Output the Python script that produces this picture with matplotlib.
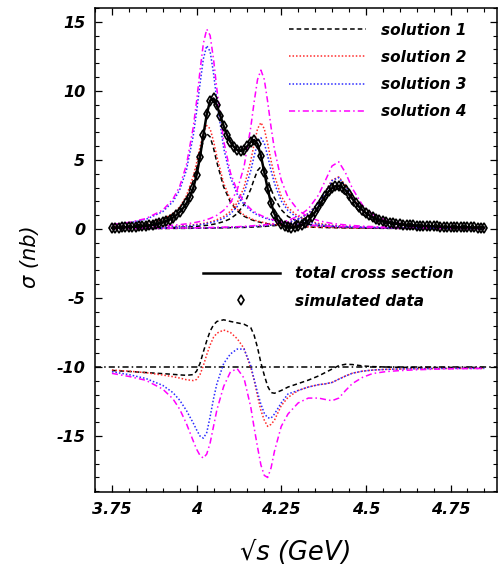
import matplotlib
matplotlib.use('Agg')
import matplotlib.pyplot as plt
from matplotlib.legend_handler import HandlerLine2D
from matplotlib.ticker import MultipleLocator
import numpy as np

plt.rcParams.update({
    'font.family': 'DejaVu Sans',
    'font.weight': 'bold',
    'font.style': 'italic',
    'axes.unicode_minus': False,
    'axes.linewidth': 1.1,
    'xtick.direction': 'in',
    'ytick.direction': 'in',
    'xtick.top': True,
    'ytick.right': True,
    'xtick.major.size': 5,
    'ytick.major.size': 5,
    'xtick.minor.size': 3,
    'ytick.minor.size': 3,
    'xtick.major.width': 0.9,
    'ytick.major.width': 0.9,
    'xtick.minor.width': 0.8,
    'ytick.minor.width': 0.8,
    'xtick.minor.visible': True,
    'ytick.minor.visible': True,
})

# Sampling energies for the resonance and interference curves (GeV)
energy = [3.75, 3.80, 3.85, 3.90, 3.93, 3.95, 3.97, 3.99, 4.00, 4.01,
          4.02, 4.03, 4.04, 4.05, 4.06, 4.08, 4.10, 4.12, 4.14, 4.16,
          4.17, 4.18, 4.19, 4.20, 4.21, 4.22, 4.23, 4.25, 4.27, 4.30,
          4.33, 4.36, 4.38, 4.40, 4.42, 4.44, 4.46, 4.49, 4.52, 4.56,
          4.60, 4.65, 4.70, 4.77, 4.85]

# psi(4040) contribution
s1_r1 = [0.15, 0.22, 0.36, 0.65, 1.02, 1.46, 2.21, 3.49, 4.40, 5.44,
         6.39, 6.89, 6.67, 5.85, 4.81, 3.04, 1.94, 1.30, 0.92, 0.69,
         0.60, 0.53, 0.47, 0.41, 0.37, 0.34, 0.30, 0.25, 0.21, 0.17,
         0.14, 0.11, 0.10, 0.09, 0.08, 0.07, 0.07, 0.06, 0.05, 0.04,
         0.04, 0.03, 0.03, 0.02, 0.02]
s2_r1 = [0.17, 0.24, 0.39, 0.70, 1.11, 1.59, 2.40, 3.80, 4.79, 5.92,
         6.95, 7.49, 7.25, 6.36, 5.23, 3.30, 2.11, 1.42, 1.01, 0.74,
         0.65, 0.57, 0.51, 0.45, 0.40, 0.36, 0.33, 0.27, 0.23, 0.18,
         0.15, 0.12, 0.11, 0.10, 0.09, 0.08, 0.07, 0.06, 0.06, 0.05,
         0.04, 0.04, 0.03, 0.02, 0.02]
s3_r1 = [0.30, 0.43, 0.69, 1.25, 1.97, 2.82, 4.26, 6.73, 8.49, 10.49,
         12.32, 13.27, 12.85, 11.28, 9.27, 5.85, 3.74, 2.51, 1.78, 1.32,
         1.15, 1.01, 0.90, 0.80, 0.72, 0.65, 0.59, 0.49, 0.41, 0.33,
         0.26, 0.22, 0.20, 0.18, 0.16, 0.14, 0.13, 0.11, 0.10, 0.09,
         0.07, 0.06, 0.05, 0.04, 0.04]
s4_r1 = [0.32, 0.47, 0.75, 1.36, 2.15, 3.07, 4.64, 7.34, 9.25, 11.44,
         13.43, 14.47, 14.01, 12.30, 10.11, 6.38, 4.07, 2.74, 1.94, 1.44,
         1.26, 1.10, 0.98, 0.87, 0.78, 0.70, 0.64, 0.53, 0.45, 0.36,
         0.29, 0.24, 0.21, 0.19, 0.17, 0.16, 0.14, 0.12, 0.11, 0.09,
         0.08, 0.07, 0.06, 0.05, 0.04]

# psi(4160) contribution
s1_r2 = [0.04, 0.05, 0.06, 0.08, 0.10, 0.12, 0.14, 0.17, 0.19, 0.21,
         0.24, 0.26, 0.30, 0.34, 0.39, 0.53, 0.74, 1.11, 1.76, 2.88,
         3.60, 4.23, 4.50, 4.23, 3.60, 2.88, 2.25, 1.39, 0.90, 0.53,
         0.34, 0.24, 0.19, 0.16, 0.13, 0.11, 0.10, 0.08, 0.07, 0.05,
         0.04, 0.03, 0.03, 0.02, 0.02]
s2_r2 = [0.06, 0.08, 0.11, 0.14, 0.18, 0.21, 0.25, 0.30, 0.33, 0.36,
         0.40, 0.45, 0.51, 0.58, 0.67, 0.90, 1.27, 1.89, 3.00, 4.93,
         6.16, 7.25, 7.70, 7.25, 6.16, 4.93, 3.85, 2.37, 1.54, 0.90,
         0.58, 0.40, 0.33, 0.27, 0.23, 0.19, 0.17, 0.13, 0.11, 0.09,
         0.07, 0.06, 0.05, 0.04, 0.03]
s3_r2 = [0.05, 0.07, 0.09, 0.12, 0.15, 0.18, 0.21, 0.25, 0.28, 0.31,
         0.35, 0.39, 0.44, 0.50, 0.57, 0.77, 1.09, 1.62, 2.57, 4.22,
         5.28, 6.21, 6.60, 6.21, 5.28, 4.22, 3.30, 2.03, 1.32, 0.77,
         0.50, 0.35, 0.28, 0.23, 0.19, 0.17, 0.14, 0.12, 0.10, 0.08,
         0.06, 0.05, 0.04, 0.03, 0.02]
s4_r2 = [0.09, 0.12, 0.16, 0.22, 0.27, 0.31, 0.37, 0.44, 0.49, 0.54,
         0.60, 0.68, 0.76, 0.87, 0.99, 1.35, 1.90, 2.83, 4.49, 7.36,
         9.20, 10.82, 11.50, 10.82, 9.20, 7.36, 5.75, 3.54, 2.30, 1.35,
         0.87, 0.60, 0.49, 0.40, 0.34, 0.29, 0.25, 0.20, 0.17, 0.13,
         0.11, 0.09, 0.07, 0.05, 0.04]

# psi(4415) contribution
s1_r3 = [0.02, 0.02, 0.03, 0.03, 0.04, 0.04, 0.04, 0.05, 0.05, 0.05,
         0.06, 0.06, 0.06, 0.07, 0.07, 0.08, 0.09, 0.10, 0.11, 0.13,
         0.14, 0.15, 0.17, 0.18, 0.20, 0.22, 0.24, 0.30, 0.37, 0.55,
         0.87, 1.48, 2.10, 2.75, 2.93, 2.45, 1.77, 1.03, 0.63, 0.37,
         0.24, 0.15, 0.11, 0.07, 0.05]
s2_r3 = [0.03, 0.03, 0.04, 0.04, 0.05, 0.05, 0.06, 0.06, 0.07, 0.07,
         0.07, 0.08, 0.08, 0.08, 0.09, 0.10, 0.11, 0.13, 0.15, 0.17,
         0.18, 0.20, 0.21, 0.23, 0.26, 0.28, 0.31, 0.38, 0.48, 0.71,
         1.12, 1.90, 2.71, 3.54, 3.77, 3.15, 2.28, 1.33, 0.82, 0.48,
         0.31, 0.20, 0.14, 0.09, 0.06]
s3_r3 = [0.03, 0.03, 0.04, 0.04, 0.05, 0.05, 0.06, 0.06, 0.06, 0.07,
         0.07, 0.08, 0.08, 0.08, 0.09, 0.10, 0.11, 0.13, 0.14, 0.17,
         0.18, 0.19, 0.21, 0.23, 0.25, 0.28, 0.30, 0.38, 0.47, 0.70,
         1.11, 1.88, 2.67, 3.49, 3.72, 3.11, 2.25, 1.31, 0.81, 0.47,
         0.30, 0.19, 0.13, 0.09, 0.06]
s4_r3 = [0.03, 0.04, 0.05, 0.06, 0.06, 0.07, 0.07, 0.08, 0.08, 0.09,
         0.09, 0.10, 0.10, 0.11, 0.11, 0.13, 0.15, 0.16, 0.19, 0.22,
         0.24, 0.25, 0.28, 0.30, 0.33, 0.36, 0.40, 0.49, 0.62, 0.91,
         1.45, 2.45, 3.49, 4.56, 4.86, 4.06, 2.94, 1.72, 1.05, 0.62,
         0.40, 0.25, 0.18, 0.11, 0.08]

# interference terms (drawn shifted by OFFSET)
s1_int = [-0.25, -0.32, -0.40, -0.48, -0.53, -0.57, -0.60, -0.55, -0.30, 0.25,
          1.10, 1.90, 2.60, 3.05, 3.30, 3.42, 3.30, 3.20, 3.10, 2.85,
          2.30, 1.40, 0.30, -0.60, -1.40, -1.85, -1.90, -1.70, -1.45, -1.20,
          -0.95, -0.65, -0.40, -0.15, 0.10, 0.20, 0.18, 0.08, 0.03, 0.00,
          -0.02, -0.03, -0.03, -0.03, -0.03]
s2_int = [-0.22, -0.30, -0.41, -0.58, -0.70, -0.80, -0.92, -0.98, -0.90, -0.55,
          0.10, 0.90, 1.60, 2.15, 2.45, 2.68, 2.50, 2.05, 1.35, -0.05,
          -0.95, -2.10, -3.15, -3.85, -4.30, -4.15, -3.85, -2.80, -2.20, -1.70,
          -1.45, -1.28, -1.22, -1.12, -0.88, -0.65, -0.45, -0.30, -0.22, -0.17,
          -0.14, -0.12, -0.11, -0.10, -0.10]
s3_int = [-0.34, -0.55, -0.83, -1.33, -1.85, -2.40, -3.15, -4.05, -4.55, -5.00,
          -5.15, -4.75, -3.60, -2.30, -1.20, 0.25, 0.95, 1.30, 1.30, 0.10,
          -0.90, -1.85, -2.70, -3.35, -3.68, -3.70, -3.40, -2.60, -1.95, -1.70,
          -1.45, -1.28, -1.22, -1.12, -0.88, -0.65, -0.45, -0.30, -0.22, -0.17,
          -0.14, -0.12, -0.11, -0.10, -0.10]
s4_int = [-0.46, -0.68, -0.96, -1.60, -2.30, -3.05, -4.10, -5.35, -5.95, -6.40,
          -6.60, -6.30, -5.50, -4.30, -3.10, -1.40, -0.35, -0.12, -0.80, -2.90,
          -4.40, -5.80, -7.10, -7.85, -8.00, -7.30, -6.10, -4.30, -3.40, -2.60,
          -2.25, -2.25, -2.35, -2.44, -2.25, -1.70, -1.20, -0.75, -0.47, -0.33,
          -0.26, -0.20, -0.16, -0.12, -0.10]
OFFSET = -10

# total cross section / simulated data, 10 MeV steps
energy_fine = np.round(np.arange(3.75, 4.855, 0.01), 2)
total = [0.08, 0.09, 0.10, 0.11, 0.12, 0.13, 0.14, 0.16, 0.18, 0.20,
         0.22, 0.25, 0.29, 0.34, 0.40, 0.47, 0.56, 0.67, 0.82, 1.00,
         1.22, 1.50, 1.85, 2.30, 2.95, 3.90, 5.20, 6.80, 8.30, 9.30,
         9.45, 8.95, 8.20, 7.45, 6.80, 6.30, 5.95, 5.72, 5.65, 5.75,
         6.00, 6.30, 6.45, 6.15, 5.30, 4.10, 2.90, 1.85, 1.10, 0.62,
         0.35, 0.20, 0.12, 0.10, 0.12, 0.18, 0.27, 0.40, 0.62, 0.90,
         1.22, 1.60, 2.00, 2.38, 2.72, 2.95, 3.10, 3.13, 3.02, 2.80,
         2.50, 2.18, 1.88, 1.60, 1.36, 1.16, 0.99, 0.85, 0.74, 0.65,
         0.57, 0.51, 0.46, 0.42, 0.38, 0.35, 0.32, 0.30, 0.28, 0.26,
         0.24, 0.23, 0.22, 0.21, 0.20, 0.19, 0.18, 0.17, 0.16, 0.15,
         0.15, 0.14, 0.13, 0.13, 0.12, 0.12, 0.11, 0.11, 0.10, 0.10, 0.10]

sol_labels = ['solution 1', 'solution 2', 'solution 3', 'solution 4']
sol_colors = ['black', '#ff2a2a', '#2a2aff', '#ff00ff']
sol_styles = [(0, (3, 2)), (0, (1, 1.3)), (0, (1, 1.3)), (0, (4, 2, 1, 2))]
sol_res = [(s1_r1, s1_r2, s1_r3), (s2_r1, s2_r2, s2_r3),
           (s3_r1, s3_r2, s3_r3), (s4_r1, s4_r2, s4_r3)]
sol_int = [s1_int, s2_int, s3_int, s4_int]


class MarkerAtEnd(HandlerLine2D):
    # put the legend marker at the right end of the handle
    def get_xdata(self, legend, xdescent, ydescent, width, height, fontsize):
        return [-xdescent, -xdescent + width], [-xdescent + width]


fig = plt.figure(figsize=(4.98, 5.67), dpi=100)
ax = fig.add_axes([0.1908, 0.1323, 0.807, 0.8536])

ax.axhline(OFFSET, color='black', lw=1.1, ls=(0, (4, 2, 1, 2)))

sol_handles = []
for res, inter, col, sty in zip(sol_res, sol_int, sol_colors, sol_styles):
    for comp in res:
        ln, = ax.plot(energy, comp, color=col, ls=sty, lw=1.1)
    ax.plot(energy, np.array(inter) + OFFSET, color=col, ls=sty, lw=1.1)
    sol_handles.append(ln)

total_line, = ax.plot(energy_fine, total, color='black', lw=1.8, zorder=5)
data_line, = ax.plot(energy_fine, total, ls='none', marker='d', ms=5.2,
                     mfc='none', mec='black', mew=1.2, zorder=6)

ax.set_xlim(3.7, 4.887)
ax.set_ylim(-19.05, 16)
ax.xaxis.set_major_locator(MultipleLocator(0.25))
ax.xaxis.set_minor_locator(MultipleLocator(0.05))
ax.yaxis.set_major_locator(MultipleLocator(5))
ax.yaxis.set_minor_locator(MultipleLocator(1))
ax.set_xticks([3.75, 4.0, 4.25, 4.5, 4.75])
ax.set_xticklabels(['3.75', '4', '4.25', '4.5', '4.75'])
ax.tick_params(axis='both', which='major', labelsize=11.5, pad=7)

ax.set_xlabel('√s (GeV)', fontsize=18.5)
ax.set_ylabel('σ (nb)', fontsize=15)
ax.xaxis.set_label_coords(0.5, -0.126)
ax.xaxis.label.set_va('center')
ax.yaxis.set_label_coords(-0.162, 0.486)
ax.yaxis.label.set_va('center')

leg1 = ax.legend(sol_handles, sol_labels, loc='upper left',
                 bbox_to_anchor=(0.483, 0.970), frameon=False, fontsize=11,
                 handlelength=5.0, handletextpad=1.0, labelspacing=0.80,
                 borderpad=0, borderaxespad=0)
ax.add_artist(leg1)
ax.legend([total_line, data_line], ['total cross section', 'simulated data'],
          loc='upper left', bbox_to_anchor=(0.269, 0.466), frameon=False,
          fontsize=11, handlelength=5.0, handletextpad=1.0, labelspacing=0.80,
          borderpad=0, borderaxespad=0,
          handler_map={data_line: MarkerAtEnd(numpoints=1)})

fig.savefig('out.png', dpi=100)
